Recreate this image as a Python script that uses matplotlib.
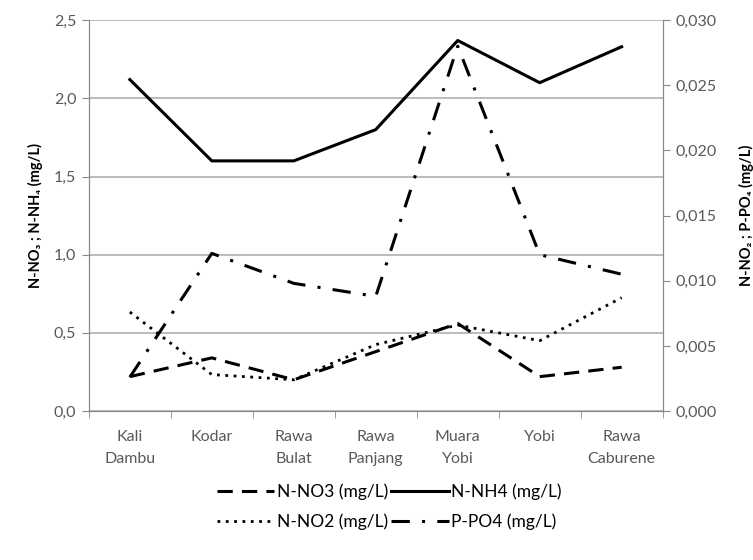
import matplotlib.pyplot as plt
import numpy as np

sites = ["Kali\nDambu", "Kodar", "Rawa\nBulat", "Rawa\nPanjang", "Muara\nYobi", "Yobi", "Rawa\nCaburene"]
no3 = [0.22, 0.34, 0.20, 0.38, 0.56, 0.22, 0.28]
nh4 = [2.12, 1.60, 1.60, 1.80, 2.37, 2.10, 2.33]
no2 = [0.0076, 0.0028, 0.0024, 0.0051, 0.0066, 0.0054, 0.0087]
po4 = [0.0026, 0.0121, 0.0098, 0.0088, 0.0280, 0.0120, 0.0105]

plt.rcParams['font.family'] = ['Lato', 'DejaVu Sans']
grey = "#595959"

fig = plt.figure(figsize=(7.53, 5.6), dpi=100)
ax = fig.add_axes([0.118, 0.266, 0.762, 0.698])
ax2 = ax.twinx()

x = np.arange(len(sites))
l1, = ax.plot(x, no3, color="black", lw=2.2, dashes=(5, 3), label="N-NO3 (mg/L)")
l2, = ax.plot(x, nh4, color="black", lw=2.2, label="N-NH4 (mg/L)")
l3, = ax2.plot(x, no2, color="black", lw=2.0, dashes=(1, 2), label="N-NO2 (mg/L)")
l4, = ax2.plot(x, po4, color="black", lw=2.2, dashes=(6, 4, 1, 4), label="P-PO4 (mg/L)")

ax.set_xlim(-0.5, len(sites) - 0.5)
ax.set_ylim(0, 2.5)
ax2.set_ylim(0, 0.030)
ax.set_yticks(np.arange(0, 2.51, 0.5))
ax2.set_yticks(np.arange(0, 0.0301, 0.005))
ax.set_yticklabels([f"{v:.1f}".replace(".", ",") for v in np.arange(0, 2.51, 0.5)])
ax2.set_yticklabels([f"{v:.3f}".replace(".", ",") for v in np.arange(0, 0.0301, 0.005)])

ax.set_xticks(x)
ax.set_xticklabels(sites, fontsize=11.5, color=grey, linespacing=1.7)
ax.set_xticks(np.arange(-0.5, len(sites)), minor=True)
ax.tick_params(axis="x", which="major", length=0, pad=14)
ax.tick_params(axis="x", which="minor", length=5, color="#888888")

ax.yaxis.grid(True, color="#b0b0b0", lw=1.2)
ax.set_axisbelow(True)
for a in (ax, ax2):
    a.spines["top"].set_visible(False)
    for s in ("left", "right", "bottom"):
        a.spines[s].set_color("#888888")
    a.tick_params(axis="y", length=5, color="#888888", labelcolor=grey, labelsize=11.5, pad=4)

ax.set_ylabel("N-NO₃ ; N-NH₄ (mg/L)", fontsize=10.5, fontweight="bold", labelpad=8)
ax2.set_ylabel("N-NO₂ ; P-PO₄ (mg/L)", fontsize=10.5, fontweight="bold", labelpad=16)

fig.legend(handles=[l1, l3, l2, l4], ncol=2, loc="center", bbox_to_anchor=(0.517, 0.095),
           frameon=False, fontsize=12.5, handlelength=3.3, handletextpad=0.15,
           columnspacing=0.2, labelspacing=0.8)

plt.savefig("out.png", dpi=100)
plt.close()
